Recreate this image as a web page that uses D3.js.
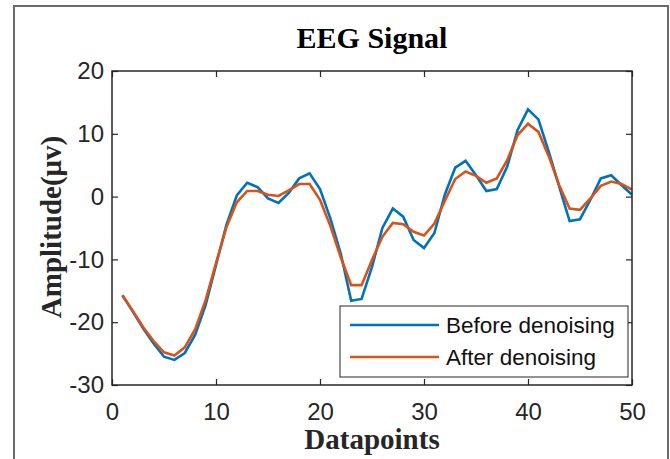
<!DOCTYPE html>
<html>
<head>
<meta charset="utf-8">
<script src="https://cdn.jsdelivr.net/npm/d3@7"></script>
<style>
  html, body { margin: 0; padding: 0; background: #fff; }
  svg { display: block; }
</style>
</head>
<body>
<svg id="chart" width="670" height="459"></svg>
<script>
const datapoints = d3.range(1, 51);
const beforeDenoising = [
  -15.7, -18.3, -21.0, -23.4, -25.5, -26.0, -24.9, -22.0, -17.3, -10.9,
  -4.5, 0.2, 2.2, 1.5, -0.3, -1.0, 0.6, 2.9, 3.7, 1.2,
  -3.5, -9.1, -16.6, -16.3, -11.2, -5.0, -1.9, -3.2, -6.9, -8.2,
  -5.8, 0.3, 4.6, 5.7, 3.4, 0.9, 1.2, 4.8, 10.6, 13.9,
  12.3, 7.1, 1.6, -3.9, -3.6, -0.5, 2.9, 3.4, 1.8, 0.3
];
const afterDenoising = [
  -15.7, -18.2, -20.8, -23.0, -24.8, -25.3, -24.0, -21.1, -16.5, -10.6,
  -4.9, -0.9, 0.9, 0.9, 0.3, 0.1, 1.0, 2.0, 2.0, -0.5,
  -4.7, -9.7, -14.1, -14.1, -10.1, -6.4, -4.2, -4.4, -5.6, -6.2,
  -4.3, -0.7, 2.8, 4.0, 3.3, 2.2, 2.9, 5.8, 9.8, 11.6,
  10.3, 6.4, 1.8, -1.9, -2.1, -0.3, 1.7, 2.4, 2.0, 1.1
];
const xTicks = [0, 10, 20, 30, 40, 50];
const yTicks = [-30, -20, -10, 0, 10, 20];
const seriesNames = ["Before denoising", "After denoising"];
const seriesColors = ["#0072BD", "#D95319"];

const svg = d3.select("#chart");
const L = 112, R = 632, T = 71, B = 385;
const x = d3.scaleLinear().domain([0, 50]).range([L, R]);
const y = d3.scaleLinear().domain([-30, 20]).range([B, T]);
const axisColor = "#262626";
const tickFont = "'Liberation Sans', Arial, sans-serif";
const serif = "'Liberation Serif', 'Times New Roman', serif";
const plainFmt = d => String(d);

// outer frame
svg.append("rect").attr("x", 14).attr("y", 6).attr("width", 654).attr("height", 470)
  .attr("fill", "#fff").attr("stroke", "#6a6a6a").attr("stroke-width", 2);

// plot background
svg.append("rect").attr("x", L).attr("y", T).attr("width", R - L).attr("height", B - T)
  .attr("fill", "#fff");

function styleAxis(g) {
  g.select(".domain").remove();
  g.selectAll("line").attr("stroke", axisColor).attr("stroke-width", 1.2);
  g.selectAll("text").attr("fill", axisColor).style("font-family", tickFont).style("font-size", "24px");
}

svg.append("g").attr("transform", `translate(0,${B})`)
  .call(d3.axisBottom(x).tickValues(xTicks).tickFormat(plainFmt).tickSizeInner(-6).tickSizeOuter(0).tickPadding(18))
  .call(styleAxis);
svg.append("g").attr("transform", `translate(0,${T})`)
  .call(d3.axisTop(x).tickValues(xTicks).tickSizeInner(-6).tickSizeOuter(0).tickFormat(""))
  .call(styleAxis);
svg.append("g").attr("transform", `translate(${L},0)`)
  .call(d3.axisLeft(y).tickValues(yTicks).tickFormat(plainFmt).tickSizeInner(-6).tickSizeOuter(0).tickPadding(8))
  .call(styleAxis);
svg.append("g").attr("transform", `translate(${R},0)`)
  .call(d3.axisRight(y).tickValues(yTicks).tickSizeInner(-6).tickSizeOuter(0).tickFormat(""))
  .call(styleAxis);

// lines
const line = d3.line().x((d, i) => x(datapoints[i])).y(d => y(d));
[beforeDenoising, afterDenoising].forEach((s, k) => {
  svg.append("path").datum(s).attr("d", line)
    .attr("fill", "none").attr("stroke", seriesColors[k]).attr("stroke-width", 2.6)
    .attr("stroke-linejoin", "miter");
});

// axes box
svg.append("rect").attr("x", L).attr("y", T).attr("width", R - L).attr("height", B - T)
  .attr("fill", "none").attr("stroke", axisColor).attr("stroke-width", 1.5);

// title and labels
svg.append("text").attr("x", (L + R) / 2).attr("y", 48).attr("text-anchor", "middle")
  .style("font-family", serif).style("font-weight", "bold").style("font-size", "30px")
  .attr("fill", "#000").text("EEG Signal");
svg.append("text").attr("x", (L + R) / 2).attr("y", 449).attr("text-anchor", "middle")
  .style("font-family", serif).style("font-weight", "bold").style("font-size", "29px")
  .attr("fill", "#262626").text("Datapoints");
svg.append("text").attr("transform", `translate(61,${(T + B) / 2 - 1}) rotate(-90)`)
  .attr("text-anchor", "middle")
  .style("font-family", serif).style("font-weight", "bold").style("font-size", "29px")
  .attr("fill", "#262626").text("Amplitude(μv)");

// legend
const lg = svg.append("g");
lg.append("rect").attr("x", 340).attr("y", 306).attr("width", 288).attr("height", 71)
  .attr("fill", "#fff").attr("stroke", axisColor).attr("stroke-width", 1);
seriesNames.forEach((name, k) => {
  const yy = 325 + k * 32;
  lg.append("line").attr("x1", 350).attr("x2", 439).attr("y1", yy).attr("y2", yy)
    .attr("stroke", seriesColors[k]).attr("stroke-width", 2.6);
  lg.append("text").attr("x", 446).attr("y", yy).attr("dy", "0.35em")
    .style("font-family", tickFont).style("font-size", "22.5px")
    .attr("fill", "#111").text(name);
});
</script>
</body>
</html>
